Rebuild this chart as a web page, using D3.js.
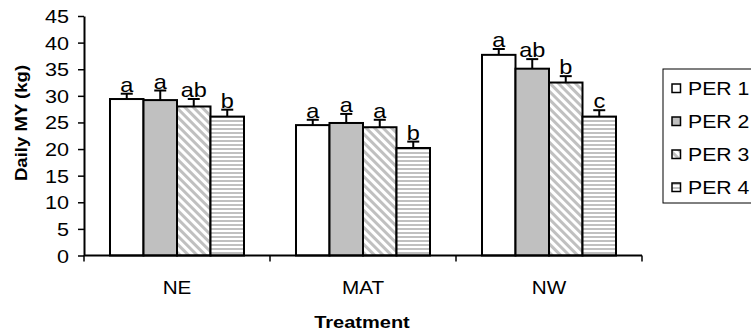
<!DOCTYPE html>
<html>
<head>
<meta charset="utf-8">
<script src="https://cdn.jsdelivr.net/npm/d3@7/dist/d3.min.js"></script>
<style>
  html, body { margin: 0; padding: 0; background: #fff; }
  svg { display: block; }
  svg text { font-family: "Liberation Sans", Arial, sans-serif; }
</style>
</head>
<body>
<svg id="chart" width="751" height="334"></svg>
<script>
// Daily milk yield by treatment and period
const treatments = ["NE", "MAT", "NW"];
const periods = ["PER 1", "PER 2", "PER 3", "PER 4"];
const meanNE  = [29.4, 29.2, 28.0, 26.1];
const meanMAT = [24.5, 24.9, 24.1, 20.2];
const meanNW  = [37.7, 35.1, 32.5, 26.1];
const errNE   = [1.0, 1.8, 1.4, 1.3];
const errMAT  = [1.0, 1.7, 1.4, 1.2];
const errNW   = [1.1, 1.8, 1.2, 1.2];
const lettersNE  = ["a", "a", "ab", "b"];
const lettersMAT = ["a", "a", "a", "b"];
const lettersNW  = ["a", "ab", "b", "c"];
const yTicks = [0, 5, 10, 15, 20, 25, 30, 35, 40, 45];

const means = { NE: meanNE, MAT: meanMAT, NW: meanNW };
const errs = { NE: errNE, MAT: errMAT, NW: errNW };
const letters = { NE: lettersNE, MAT: lettersMAT, NW: lettersNW };

const svg = d3.select("#chart");
const plotLeft = 84, plotRight = 642, plotTop = 16, plotBottom = 255.5;
const FONT = "Liberation Sans, Arial, sans-serif";

// wide lettering: text drawn at (x, y) and stretched along its own baseline
function wideText(parent, x, y, str, opts) {
  const o = Object.assign({ size: 17, sx: 1.25, anchor: "middle", weight: "normal", rotate: 0 }, opts || {});
  const g = parent.append("g")
    .attr("transform", `translate(${x},${y}) rotate(${o.rotate}) scale(${o.sx},1)`);
  g.append("text").attr("x", 0).attr("y", 0)
    .attr("text-anchor", o.anchor).attr("font-size", o.size).attr("font-family", FONT)
    .attr("font-weight", o.weight).attr("fill", "#000").text(str);
  return g;
}

const defs = svg.append("defs");
// downward diagonal stripes for PER 3
const p3 = defs.append("pattern").attr("id", "pat3")
  .attr("patternUnits", "userSpaceOnUse").attr("width", 6).attr("height", 6)
  .attr("patternTransform", "rotate(-45)");
p3.append("rect").attr("width", 6).attr("height", 6).attr("fill", "#fff");
p3.append("rect").attr("width", 3).attr("height", 6).attr("fill", "#c0c0c0");
// horizontal stripes for PER 4
const p4 = defs.append("pattern").attr("id", "pat4")
  .attr("patternUnits", "userSpaceOnUse").attr("width", 8).attr("height", 4);
p4.append("rect").attr("width", 8).attr("height", 4).attr("fill", "#fff");
p4.append("rect").attr("y", 0).attr("width", 8).attr("height", 2).attr("fill", "#c0c0c0");

const fills = ["#ffffff", "#c0c0c0", "url(#pat3)", "url(#pat4)"];

const x0 = d3.scaleBand().domain(treatments).range([plotLeft, plotRight]).padding(0);
const x1 = d3.scaleBand().domain(periods).range([0, x0.bandwidth()])
  .paddingInner(0).paddingOuter(0.776);
const y = d3.scaleLinear().domain([0, 45]).range([plotBottom, plotTop]);

// y axis
const yAxis = svg.append("g").attr("transform", `translate(${plotLeft},0)`)
  .call(d3.axisLeft(y).tickValues(yTicks).tickSize(6).tickSizeOuter(0));
yAxis.attr("font-family", FONT);
yAxis.select(".domain").attr("stroke", "#000").attr("stroke-width", 2);
yAxis.selectAll(".tick line").attr("stroke", "#000").attr("stroke-width", 1.5);
yAxis.selectAll(".tick text").remove();
yAxis.selectAll(".tick").each(function(d) {
  wideText(d3.select(this), -15, 6.5, d, { size: 18, sx: 1.2, anchor: "end" });
});

// groups and bars
const groups = svg.append("g").selectAll("g").data(treatments).join("g")
  .attr("transform", d => `translate(${x0(d)},0)`);

groups.each(function(t) {
  const g = d3.select(this);
  const rows = periods.map((p, i) => ({ p, i, v: means[t][i], e: errs[t][i], l: letters[t][i] }));
  g.selectAll("rect.bar").data(rows).join("rect").attr("class", "bar")
    .attr("x", d => x1(d.p)).attr("width", x1.bandwidth())
    .attr("y", d => y(d.v)).attr("height", d => y(0) - y(d.v))
    .attr("fill", d => fills[d.i]).attr("stroke", "#000").attr("stroke-width", 2);
  // upper error bars
  const eb = g.selectAll("g.err").data(rows).join("g").attr("class", "err");
  eb.append("line")
    .attr("x1", d => x1(d.p) + x1.bandwidth() / 2).attr("x2", d => x1(d.p) + x1.bandwidth() / 2)
    .attr("y1", d => y(d.v)).attr("y2", d => y(d.v + d.e))
    .attr("stroke", "#000").attr("stroke-width", 2);
  eb.append("line")
    .attr("x1", d => x1(d.p) + x1.bandwidth() / 2 - 6).attr("x2", d => x1(d.p) + x1.bandwidth() / 2 + 6)
    .attr("y1", d => y(d.v + d.e)).attr("y2", d => y(d.v + d.e))
    .attr("stroke", "#000").attr("stroke-width", 2);
  // significance letters
  rows.forEach(d => {
    wideText(g, x1(d.p) + x1.bandwidth() / 2, y(d.v + d.e) - 2, d.l, { size: 21, sx: 1.12 });
  });
});

// x axis
const xAxis = svg.append("g").attr("transform", `translate(0,${plotBottom})`);
xAxis.append("line").attr("x1", plotLeft).attr("x2", plotRight).attr("stroke", "#000").attr("stroke-width", 2);
xAxis.selectAll("line.tk").data([...treatments.map(t => x0(t)), plotRight]).join("line").attr("class", "tk")
  .attr("x1", d => d).attr("x2", d => d).attr("y1", 0).attr("y2", 6)
  .attr("stroke", "#000").attr("stroke-width", 1.5);
treatments.forEach(t => {
  wideText(xAxis, x0(t) + x0.bandwidth() / 2, 38.5, t, { size: 18, sx: 1.15 });
});

// axis titles
wideText(svg, 362, 328, "Treatment", { size: 16, sx: 1.25, weight: "bold" });
wideText(svg, 27, 123, "Daily MY (kg)", { size: 16, sx: 1.16, weight: "bold", rotate: -90 });

// legend
const legend = svg.append("g").attr("transform", "translate(663,69)");
legend.append("rect").attr("x", 0).attr("y", 0).attr("width", 100).attr("height", 134)
  .attr("fill", "#fff").attr("stroke", "#000").attr("stroke-width", 1);
periods.forEach((p, i) => {
  const item = legend.append("g").attr("transform", `translate(9,${19 + i * 33})`);
  item.append("rect").attr("x", 0).attr("y", -4).attr("width", 8.5).attr("height", 8.5)
    .attr("fill", fills[i]).attr("stroke", "#000").attr("stroke-width", 1.5);
  wideText(item, 16, 6.5, p, { size: 18, sx: 1.18, anchor: "start" });
});
</script>
</body>
</html>
